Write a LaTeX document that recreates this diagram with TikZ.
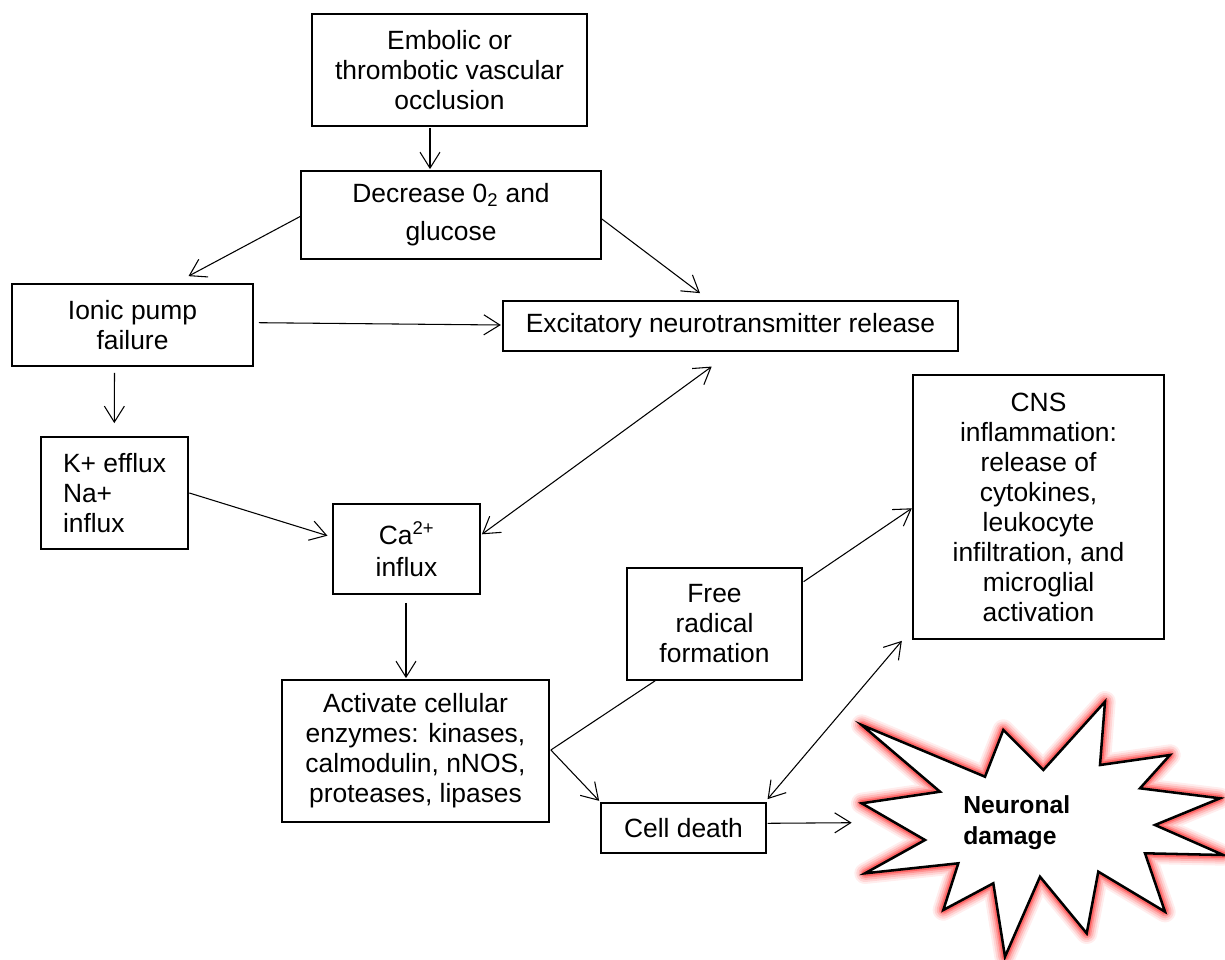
\documentclass[tikz,border=0pt]{standalone}
\usepackage{fontspec}
\setmainfont{Liberation Sans}
\usepackage{tikz}
\usetikzlibrary{arrows.meta,calc}

\tikzset{
  box/.style={draw, line width=1.3pt, inner sep=0pt, align=center, font=\fontsize{19.8}{22.5}\selectfont},
  link/.style={line width=0.8pt, -{Straight Barb[length=12pt,width=15pt]}},
  twoway/.style={line width=0.8pt, {Straight Barb[length=12pt,width=15pt]}-{Straight Barb[length=12pt,width=15pt]}},
}

\newcommand{\burstpath}{(861.7,725) -- (985,776.7) -- (1003.3,730) -- (1043.3,770) -- (1105,701.7) -- (1100,765) -- (1170,755) -- (1140,788.3) -- (1220,798.3) -- (1155,825) -- (1223.3,855) -- (1145,853.3) -- (1165,911.7) -- (1098.3,871.7) -- (1086.7,933.3) -- (1040,876.7) -- (1005,956.7) -- (993.3,883.3) -- (943.3,910) -- (958.3,863.3) -- (865,873.3) -- (925,840) -- (861.7,803.3) -- (940,791.7) -- cycle}

\begin{document}
\begin{tikzpicture}[x=0.75pt,y=0.75pt,yscale=-1,xscale=1]

\useasboundingbox (0,0) rectangle (1225,960);

\node [box, minimum width=206.25pt, minimum height=84pt] (embolic) at (449.5,70) {Embolic or\\thrombotic vascular\\occlusion};

\node [box, minimum width=225pt, minimum height=66pt] (decrease) at (451,215) {Decrease 0\textsubscript{2} and\\[6pt]glucose};

\node [box, minimum width=180.75pt, minimum height=61.5pt] (ionic) at (132.5,325) {Ionic pump\\failure};

\node [box, minimum width=341.25pt, minimum height=37.5pt] (excit) at (730.5,326) {Excitatory neurotransmitter release};

\node [box, minimum width=110.25pt, minimum height=84pt] [align=left] (kflux) at (114.5,493) {K+ efflux\\Na+\\influx};

\node [box, minimum width=110.25pt, minimum height=67.5pt] (calcium) at (406.5,549) {Ca\textsuperscript{2+}\\[1.5pt]influx};

\node [box, minimum width=188.25pt, minimum height=198pt] (cns) at (1038.5,507) {CNS\\inflammation:\\release of\\cytokines,\\leukocyte\\infiltration, and\\microglial\\activation};

\node [box, minimum width=131.25pt, minimum height=84pt] (radical) at (714.5,624) {Free\\radical\\formation};

\node [box, minimum width=200.25pt, minimum height=106.5pt] (enzymes) at (415.5,751) {Activate cellular\\enzymes: kinases,\\calmodulin, nNOS,\\proteases, lipases};

\node [box, minimum width=123.75pt, minimum height=37.5pt] (death) at (683.5,828) {Cell death};

% starburst
\foreach \w/\o in {16/0.07,13/0.1,10/0.14,7/0.2,4.5/0.3} {
  \draw [red, opacity=\o, line width=\w pt, line join=round] \burstpath;
}
\draw [fill=white, line width=1.9pt, line join=miter] \burstpath;

\node [font=\bfseries\fontsize{18.5}{23.5}\selectfont, align=left, anchor=west, inner sep=0pt] (damage) at (963,823) {Neuronal\\damage};

\draw [link] ($(embolic.south)+(-19.5,1)$) -- ($(decrease.north)+(-21,-1)$);

\draw [link] ($(decrease.west)+(0,1.5)$) -- ($(ionic.north)+(56,-7)$);

\draw [link] ($(decrease.east)+(0,4)$) -- ($(excit.north)+(-30.5,-7)$);

\draw [link] ($(ionic.east)+(5,-2.3)$) -- ($(excit.west)+(-1.3,-1)$);

\draw [link] ($(ionic.south)+(-18,6)$) -- ($(kflux.north)+(-0.2,-13)$);

\draw [link] ($(kflux.east)+(0.5,0)$) -- ($(calcium.west)+(-4.7,-13.3)$);

\draw [twoway] ($(calcium.east)+(1,-14.7)$) -- ($(excit.south)+(-18.8,14.7)$);

\draw [link] ($(calcium.south)+(-0.5,8)$) -- ($(enzymes.north)+(-9.5,-1)$);

\draw [line width=0.8pt] ($(enzymes.east)+(1,-1)$) -- ($(radical.south)+(-59.5,0)$);

\draw [link] ($(enzymes.east)+(1,-1)$) -- ($(death.north west)+(-1,-1.3)$);

\draw [link] ($(radical.east)+(0.7,-42.3)$) -- ($(cns.west)+(-0.3,1.3)$);

\draw [twoway] ($(death.north east)+(0.7,-3)$) -- ($(cns.south west)+(-10.3,1)$);

\draw [link] ($(death.east)+(0.7,-4.7)$) -- ($(damage.west)+(-111.3,-0.3)$);

\end{tikzpicture}
\end{document}
